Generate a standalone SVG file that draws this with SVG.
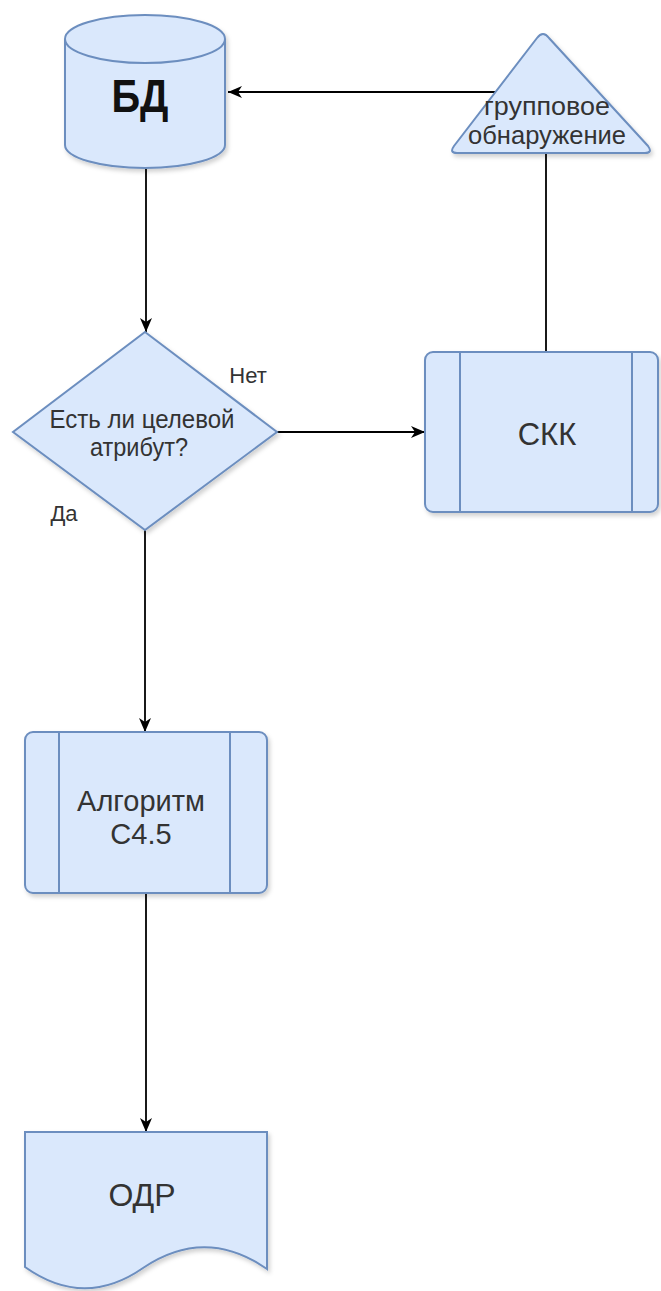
<svg xmlns="http://www.w3.org/2000/svg" width="661" height="1291" viewBox="0 0 661 1291">
<style>
.shape{fill:#dae8fc;stroke:#6c8ebf;stroke-width:2;filter:url(#sh)}
.inner{fill:none;stroke:#6c8ebf;stroke-width:2}
.edge{fill:none;stroke:#000;stroke-width:1.8}
text{font-family:"Liberation Sans",Arial,sans-serif;fill:#333;text-anchor:middle}
.lbl{font-size:22px}
</style>
<defs>
<marker id="arr" viewBox="0 0 14 12" refX="14" refY="6" markerWidth="14" markerHeight="12" markerUnits="userSpaceOnUse" orient="auto">
<path d="M0,0 L14,6 L0,12 L4,6 Z" fill="#000"/>
</marker>
<filter id="sh" x="-10%" y="-10%" width="130%" height="130%">
<feDropShadow dx="2" dy="3" stdDeviation="2" flood-color="#000" flood-opacity="0.18"/>
</filter>
</defs>
<rect width="661" height="1291" fill="#fff"/>
<g id="connectors">
<line class="edge" x1="146" y1="169" x2="146" y2="332" marker-end="url(#arr)"/>
<line class="edge" x1="495" y1="92" x2="228" y2="92" marker-end="url(#arr)"/>
<line class="edge" x1="546" y1="352" x2="546" y2="153"/>
<line class="edge" x1="277" y1="432" x2="425" y2="432" marker-end="url(#arr)"/>
<line class="edge" x1="145" y1="530" x2="145" y2="732" marker-end="url(#arr)"/>
<line class="edge" x1="146" y1="893" x2="146" y2="1132" marker-end="url(#arr)"/>
</g>
<g id="bd">
<path class="shape" d="M65,39 A80,24 0 0 1 225,39 V145 A80,23 0 0 1 65,145 Z"/>
<path class="inner" d="M65,39 A80,24 0 0 0 225,39"/>
<text x="140" y="112" textLength="57" lengthAdjust="spacingAndGlyphs" style="font-size:46px;font-weight:bold;fill:#111">БД</text>
</g>
<g id="group">
<path class="shape" d="M537,38 Q543,30 549,38 L648,146 Q653,153 645,153 L457,153 Q449,153 454,146 Z"/>
<text x="547" y="115" textLength="126" lengthAdjust="spacingAndGlyphs" style="font-size:25px">групповое</text>
<text x="547" y="144" textLength="158" lengthAdjust="spacingAndGlyphs" style="font-size:25px">обнаружение</text>
</g>
<g id="decision">
<path class="shape" d="M145,332 L277,432 L145,530 L13,432 Z"/>
<text x="142" y="428" textLength="185" lengthAdjust="spacingAndGlyphs" style="font-size:25px">Есть ли целевой</text>
<text x="139" y="456" textLength="98" lengthAdjust="spacingAndGlyphs" style="font-size:25px">атрибут?</text>
</g>
<g id="labels">
<text class="lbl" x="248" y="383">Нет</text>
<text class="lbl" x="64" y="521">Да</text>
</g>
<g id="skk">
<rect class="shape" x="425" y="352" width="233" height="160" rx="8"/>
<line class="inner" x1="460" y1="352" x2="460" y2="512"/>
<line class="inner" x1="632" y1="352" x2="632" y2="512"/>
<text x="547" y="445" style="font-size:31px">СКК</text>
</g>
<g id="algo">
<rect class="shape" x="25" y="732" width="242" height="161" rx="8"/>
<line class="inner" x1="59" y1="732" x2="59" y2="893"/>
<line class="inner" x1="230" y1="732" x2="230" y2="893"/>
<text x="141" y="811" style="font-size:29px">Алгоритм</text>
<text x="141" y="844" style="font-size:29px">C4.5</text>
</g>
<g id="odr">
<path class="shape" d="M25,1132 H267 V1269 Q205,1226 143,1268 Q84,1309 25,1267 Z"/>
<text x="142" y="1206" style="font-size:32px">ОДР</text>
</g>
</svg>
